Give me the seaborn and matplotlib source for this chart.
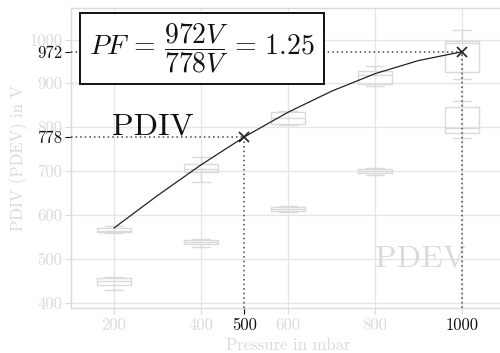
import numpy as np
import pandas as pd
import matplotlib
matplotlib.use("Agg")
import matplotlib.pyplot as plt
import seaborn as sns

# Pressure steps (mbar)
pressure = [200, 400, 600, 800, 1000]

# Box statistics per pressure: [lower whisker, Q1, median, Q3, upper whisker] in V
pdiv_stats = [
    [558, 560, 563, 571, 575],
    [676, 697, 705, 715, 733],
    [804, 807, 822, 835, 838],
    [895, 898, 920, 928, 940],
    [909, 927, 991, 997, 1022],
]
pdev_stats = [
    [428, 440, 450, 455, 459],
    [526, 533, 538, 543, 545],
    [606, 609, 613, 619, 621],
    [692, 695, 700, 704, 707],
    [775, 787, 797, 847, 860],
]

# Fitted PDIV trend over pressure
fit_p = [200, 300, 400, 500, 600, 700, 800, 900, 1000]
fit_v = [570, 644, 714, 778, 834, 882, 922, 952, 972]

# Read-off points used for the polarity factor
pf_p = [500, 1000]
pf_v = [778, 972]

x_ticks = [200, 400, 600, 800, 1000]
y_ticks = [400, 500, 600, 700, 800, 900, 1000]

sns.set_style("whitegrid")
plt.rcParams["font.family"] = "serif"
plt.rcParams["font.serif"] = ["cmr10"]
plt.rcParams["mathtext.fontset"] = "cm"
plt.rcParams["axes.unicode_minus"] = False
plt.rcParams["axes.formatter.use_mathtext"] = True

light = "#dadada"
grid_c = "#e6e6e6"


def long_form(stats, name):
    rows = []
    for p, s in zip(pressure, stats):
        for v in s:
            rows.append({"pressure": p, "voltage": v, "kind": name})
    return rows


df = pd.DataFrame(long_form(pdiv_stats, "PDIV") + long_form(pdev_stats, "PDEV"))

fig = plt.figure(figsize=(5.0, 3.53), dpi=100)
ax = fig.add_axes([70.5 / 500, 45 / 353, 435 / 500, 300.5 / 353])

for kind in ["PDIV", "PDEV"]:
    sns.boxplot(
        data=df[df["kind"] == kind], x="pressure", y="voltage",
        native_scale=True, width=0.4, whis=(0, 100), fill=False,
        color=light, linewidth=1.0, ax=ax, zorder=2,
    )

# PDIV fit curve
sns.lineplot(x=fit_p, y=fit_v, color="#222222", linewidth=0.9, ax=ax, zorder=4)

ax.set_xlim(100, 1100)
ax.set_ylim(387.5, 1073)

# Dotted guides from the read-off points to the axes
for p, v in zip(pf_p, pf_v):
    ax.plot([100, p], [v, v], linestyle=(0, (1, 2)), color="#444444", linewidth=1.1, zorder=3)
    ax.plot([p, p], [387.5, v], linestyle=(0, (1, 2)), color="#444444", linewidth=1.1, zorder=3)
ax.plot(pf_p, pf_v, linestyle="none", marker="x", color="#222222",
        markersize=7, markeredgewidth=1.2, zorder=5)

# Grey major ticks with grid, black minor ticks for the read-off values
ax.set_xticks(x_ticks)
ax.set_xticklabels([str(t) for t in x_ticks])
ax.set_yticks(y_ticks)
ax.set_yticklabels([str(t) for t in y_ticks])
ax.set_xticks([500], minor=True)
ax.set_xticklabels(["500"], minor=True)
ax.set_yticks(pf_v, minor=True)
ax.set_yticklabels([str(v) for v in pf_v], minor=True)

ax.tick_params(which="major", labelsize=12, labelcolor=light, color=light,
               length=4, width=0.8, direction="out")
ax.tick_params(which="minor", labelsize=12, labelcolor="#111111", color="#111111",
               length=4, width=0.8, direction="out")
ax.tick_params(axis="x", which="both", bottom=True, pad=3)
ax.tick_params(axis="y", which="both", left=True, pad=2)
for lbl in ax.get_xticklabels():
    if lbl.get_text() == "1000":
        lbl.set_color("#111111")

ax.grid(which="major", color=grid_c, linewidth=1.0)
ax.grid(which="minor", visible=False)
ax.set_axisbelow(True)
for side in ["left", "bottom", "top", "right"]:
    ax.spines[side].set_color(light)
    ax.spines[side].set_linewidth(1.0)

ax.set_xlabel("Pressure in mbar", fontsize=12, color=light, labelpad=3)
ax.set_ylabel("PDIV (PDEV) in V", fontsize=12, color=light)
ax.yaxis.set_label_coords(-0.098, 0.5)

ax.text(196, 783, "PDIV", fontsize=23, color="#111111", ha="left", va="baseline", zorder=6)
ax.text(800, 482, "PDEV", fontsize=23, color=light, ha="left", va="baseline", zorder=1)

ax.text(402, 980, r"$PF\,=\,\dfrac{972V}{778V}\,=\,1.25$", fontsize=20, color="#111111",
        ha="center", va="center", zorder=7,
        bbox=dict(boxstyle="square,pad=0.32", facecolor="white",
                  edgecolor="#111111", linewidth=1.4))

fig.savefig("out.png", dpi=100)
